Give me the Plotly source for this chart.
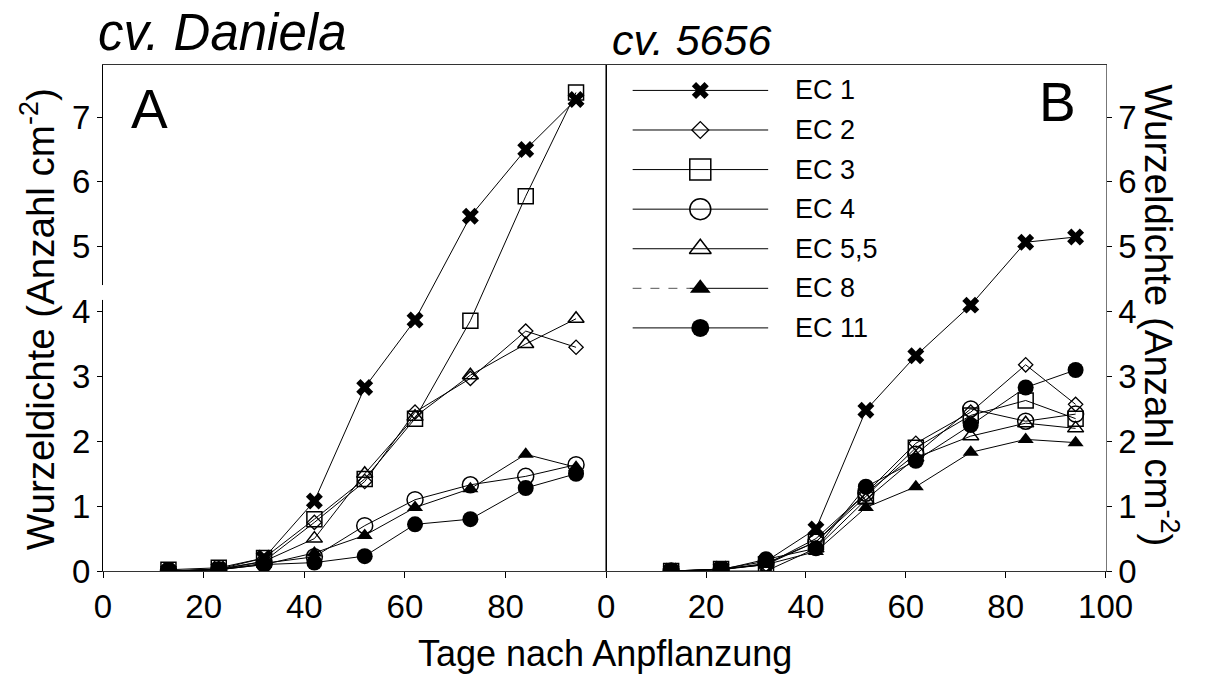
import plotly.graph_objects as go

# ---------------- data ----------------
days = [13, 23, 32, 42, 52, 62, 73, 84, 94]
series_names = ["EC 1", "EC 2", "EC 3", "EC 4", "EC 5,5", "EC 8", "EC 11"]

# cv. Daniela (panel A)
daniela_ec1 = [0.00, 0.03, 0.20, 1.08, 2.83, 3.87, 5.47, 6.50, 7.27]
daniela_ec2 = [0.00, 0.03, 0.15, 0.75, 1.38, 2.45, 2.97, 3.70, 3.45]
daniela_ec3 = [0.02, 0.05, 0.20, 0.80, 1.42, 2.35, 3.86, 5.78, 7.38]
daniela_ec4 = [0.00, 0.02, 0.12, 0.22, 0.70, 1.10, 1.33, 1.46, 1.64]
daniela_ec55 = [0.00, 0.02, 0.15, 0.50, 1.50, 2.38, 3.02, 3.50, 3.89]
daniela_ec8 = [0.00, 0.02, 0.10, 0.28, 0.55, 0.98, 1.27, 1.80, 1.60]
daniela_ec11 = [0.00, 0.02, 0.10, 0.13, 0.23, 0.72, 0.80, 1.28, 1.50]

# cv. 5656 (panel B)
cv5656_ec1 = [0.00, 0.03, 0.15, 0.65, 2.48, 3.32, 4.10, 5.07, 5.15]
cv5656_ec2 = [0.00, 0.03, 0.10, 0.50, 1.20, 1.97, 2.45, 3.18, 2.57]
cv5656_ec3 = [0.00, 0.03, 0.10, 0.45, 1.15, 1.90, 2.40, 2.63, 2.35]
cv5656_ec4 = [0.00, 0.02, 0.12, 0.45, 1.20, 1.80, 2.50, 2.31, 2.42]
cv5656_ec55 = [0.00, 0.00, 0.00, 0.35, 1.10, 1.75, 2.08, 2.28, 2.20]
cv5656_ec8 = [0.00, 0.02, 0.10, 0.30, 0.98, 1.30, 1.83, 2.03, 1.98]
cv5656_ec11 = [0.00, 0.02, 0.18, 0.35, 1.30, 1.70, 2.25, 2.83, 3.10]

daniela = [daniela_ec1, daniela_ec2, daniela_ec3, daniela_ec4, daniela_ec55, daniela_ec8, daniela_ec11]
cv5656 = [cv5656_ec1, cv5656_ec2, cv5656_ec3, cv5656_ec4, cv5656_ec55, cv5656_ec8, cv5656_ec11]

x_ticks_left = [0, 20, 40, 60, 80]
x_ticks_right = [0, 20, 40, 60, 80, 100]
y_ticks = [0, 1, 2, 3, 4, 5, 6, 7]

# ---------------- styles ----------------
W, H = 1215, 699
FONT = "Liberation Sans, Arial, sans-serif"


def fx(px):
    return px / W


def fy(py):
    return 1 - py / H


styles = [
    dict(symbol="x", size=15, lw=0, leg=15),
    dict(symbol="diamond-open", size=11, lw=1.3, leg=13),
    dict(symbol="square-open", size=15, lw=1.5, leg=21),
    dict(symbol="circle-open", size=16, lw=1.5, leg=21),
    dict(symbol="triangle-up-open", size=14, lw=1.5, leg=19),
    dict(symbol="triangle-up", size=14, lw=0, leg=18),
    dict(symbol="circle", size=16, lw=0, leg=18),
]

fig = go.Figure()

for xa, ya, data in (("x", "y", daniela), ("x2", "y2", cv5656)):
    for name, vals, st in zip(series_names, data, styles):
        fig.add_trace(go.Scatter(
            x=days, y=vals, mode="lines+markers", name=name,
            xaxis=xa, yaxis=ya, showlegend=False,
            line=dict(color="black", width=1),
            marker=dict(symbol=st["symbol"], size=st["size"], color="black",
                        line=dict(color="black", width=st["lw"])),
        ))

# ---- legend built on its own small axis pair ----
for i, (name, st) in enumerate(zip(series_names, styles)):
    if name == "EC 8":
        fig.add_trace(go.Scatter(x=[0, 0.42], y=[i, i], mode="lines", xaxis="x3", yaxis="y3",
                                 showlegend=False, hoverinfo="skip",
                                 line=dict(color="#555", width=1, dash="dash")))
        fig.add_trace(go.Scatter(x=[0.42, 1], y=[i, i], mode="lines", xaxis="x3", yaxis="y3",
                                 showlegend=False, hoverinfo="skip",
                                 line=dict(color="black", width=1)))
    else:
        fig.add_trace(go.Scatter(x=[0, 1], y=[i, i], mode="lines", xaxis="x3", yaxis="y3",
                                 showlegend=False, hoverinfo="skip",
                                 line=dict(color="black", width=1)))
    fig.add_trace(go.Scatter(x=[0.5], y=[i], mode="markers", xaxis="x3", yaxis="y3",
                             showlegend=False, hoverinfo="skip",
                             marker=dict(symbol=st["symbol"], size=st["leg"], color="black",
                                         line=dict(color="black", width=st["lw"]))))
    fig.add_annotation(x=1.186, y=i, xref="x3", yref="y3", text=name, showarrow=False,
                       xanchor="left", yanchor="middle",
                       font=dict(family=FONT, size=27, color="black"))

axis_common = dict(showgrid=False, zeroline=False, showline=True, linewidth=1,
                   ticks="outside", tickcolor="black", tickwidth=1,
                   tickfont=dict(family=FONT, size=33, color="black"))

fig.update_layout(
    width=W, height=H,
    margin=dict(l=0, r=0, t=0, b=0),
    plot_bgcolor="white", paper_bgcolor="white",
    xaxis=dict(domain=[fx(97), fx(616)], range=[0, 100], anchor="y",
               tickvals=x_ticks_left, ticklen=6, linecolor="#333", mirror=True, **axis_common),
    yaxis=dict(domain=[fy(587), fy(67)], range=[0, 7.8], anchor="x",
               tickvals=y_ticks, ticklen=5, linecolor="black", mirror=True, **axis_common),
    xaxis2=dict(domain=[fx(616), fx(1131)], range=[0, 100], anchor="y2",
                tickvals=x_ticks_right, ticklen=6, linecolor="#333", mirror=True, **axis_common),
    yaxis2=dict(domain=[fy(587), fy(67)], range=[0, 7.8], anchor="x2", side="right",
                tickvals=y_ticks, ticklen=5, linecolor="#777", mirror=True, **axis_common),
    xaxis3=dict(domain=[fx(643), fx(923)], range=[0, 2], anchor="y3", visible=False, fixedrange=True),
    yaxis3=dict(domain=[fy(357.4), fy(72.6)], range=[6.5, -0.5], anchor="x3", visible=False,
                fixedrange=True),
    showlegend=False,
)

# axis break on the left y axis
fig.add_shape(type="rect", xref="paper", yref="y", x0=fx(93), x1=fx(99.5), y0=4.18, y1=4.41,
              fillcolor="white", line=dict(width=0), layer="above")

# titles and labels
fig.add_annotation(x=fx(90), y=fy(33), xref="paper", yref="paper", text="<i>cv. Daniela</i>",
                   showarrow=False, xanchor="left", yanchor="middle",
                   font=dict(family=FONT, size=51, color="black"))
fig.add_annotation(x=fx(620), y=fy(41), xref="paper", yref="paper", text="<i>cv. 5656</i>",
                   showarrow=False, xanchor="left", yanchor="middle",
                   font=dict(family=FONT, size=43, color="black"))
fig.add_annotation(x=fx(145), y=fy(112), xref="paper", yref="paper", text="A",
                   showarrow=False, xanchor="center", yanchor="middle",
                   font=dict(family=FONT, size=55, color="black"))
fig.add_annotation(x=fx(1081), y=fy(105), xref="paper", yref="paper", text="B",
                   showarrow=False, xanchor="center", yanchor="middle",
                   font=dict(family=FONT, size=55, color="black"))
fig.add_annotation(x=fx(615), y=fy(672), xref="paper", yref="paper", text="Tage nach Anpflanzung",
                   showarrow=False, xanchor="center", yanchor="middle",
                   font=dict(family=FONT, size=36, color="black"))
fig.add_annotation(x=fx(30), y=fy(328), xref="paper", yref="paper",
                   text="Wurzeldichte (Anzahl cm<sup>-2</sup>)", textangle=-90,
                   showarrow=False, xanchor="center", yanchor="middle",
                   font=dict(family=FONT, size=38.5, color="black"))
fig.add_annotation(x=fx(1188), y=fy(324), xref="paper", yref="paper",
                   text="Wurzeldichte (Anzahl cm<sup>-2</sup>)", textangle=90,
                   showarrow=False, xanchor="center", yanchor="middle",
                   font=dict(family=FONT, size=38.5, color="black"))

fig.write_html("out.html")
